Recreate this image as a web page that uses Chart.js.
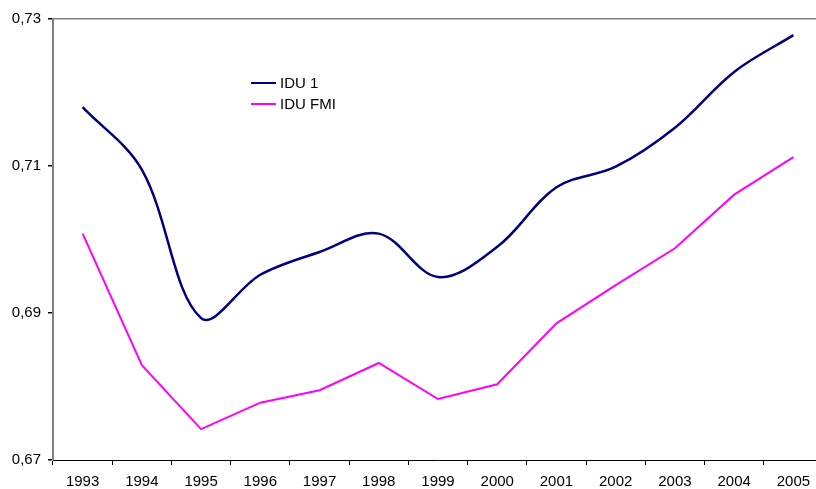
<!DOCTYPE html>
<html lang="pt">
<head>
    <meta charset="UTF-8">
    <title>IDU</title>
    <script src="https://cdn.jsdelivr.net/npm/chart.js"></script>
    <style>
        body {
            margin: 0;
            background: #fff;
            overflow: hidden;
            font-family: 'Liberation Sans', Arial, sans-serif;
        }
        .wrap {
            position: relative;
            width: 823px;
            height: 489px;
        }
        #legend {
            position: absolute;
            left: 251px;
            top: 72px;
            font-size: 15px;
            color: #000;
        }
        #legend div {
            height: 21px;
            display: flex;
            align-items: center;
        }
        #legend span.line {
            display: inline-block;
            width: 25px;
            margin-right: 4px;
        }
    </style>
</head>
<body>
    <div class="wrap">
        <canvas id="chart" width="823" height="489"></canvas>
        <div id="legend"></div>
    </div>

    <script>
        // data
        var years = ['1993', '1994', '1995', '1996', '1997', '1998', '1999',
                     '2000', '2001', '2002', '2003', '2004', '2005'];
        var idu1 = [0.7180, 0.7095, 0.6893, 0.6952, 0.6983, 0.7008, 0.6949,
                    0.6990, 0.7071, 0.7099, 0.7152, 0.7228, 0.7278];
        var iduFmi = [0.7008, 0.6829, 0.6742, 0.6778, 0.6795, 0.6832, 0.6783,
                      0.6803, 0.6886, 0.6938, 0.6988, 0.7061, 0.7112];
        var yTicks = [0.67, 0.69, 0.71, 0.73];

        var font = { family: "'Liberation Sans', Arial, sans-serif", size: 15 };

        var ctx = document.getElementById('chart').getContext('2d');
        var chart = new Chart(ctx, {
            type: 'line',
            data: {
                labels: years,
                datasets: [{
                    label: 'IDU 1',
                    data: idu1,
                    borderColor: '#000080',
                    borderWidth: 2.5,
                    tension: 0.35,
                    pointRadius: 0,
                    fill: false
                }, {
                    label: 'IDU FMI',
                    data: iduFmi,
                    borderColor: '#FF00FF',
                    borderWidth: 2,
                    tension: 0,
                    pointRadius: 0,
                    fill: false
                }]
            },
            options: {
                responsive: false,
                animation: false,
                layout: { padding: { top: 19, left: 0, right: 0, bottom: 0 } },
                plugins: {
                    legend: { display: false },
                    tooltip: { enabled: false }
                },
                scales: {
                    x: {
                        offset: true,
                        grid: {
                            offset: true,
                            drawOnChartArea: false,
                            tickLength: 5,
                            tickColor: '#000',
                            tickWidth: 1
                        },
                        border: { color: '#000', width: 1 },
                        ticks: { color: '#000', font: font, padding: 8, maxRotation: 0 },
                        afterFit: function (scale) { scale.height = 29; }
                    },
                    y: {
                        min: 0.67,
                        max: 0.73,
                        afterBuildTicks: function (scale) {
                            scale.ticks = yTicks.map(function (v) { return { value: v }; });
                        },
                        grid: {
                            // only the top line of the plot frame
                            color: function (c) {
                                return c.tick && c.tick.value === 0.73 ? '#808080' : 'rgba(0,0,0,0)';
                            },
                            lineWidth: 1.5,
                            tickLength: 5,
                            tickColor: '#000'
                        },
                        border: { color: '#808080', width: 2 },
                        ticks: {
                            color: '#000',
                            font: font,
                            padding: 7,
                            callback: function (v) { return v.toFixed(2).replace('.', ','); }
                        },
                        afterFit: function (scale) { scale.width = 53; }
                    }
                }
            }
        });

        // legend inside the plot
        var legend = document.getElementById('legend');
        chart.data.datasets.forEach(function (ds) {
            var row = document.createElement('div');
            row.innerHTML = '<span class="line" style="border-top:2px solid ' + ds.borderColor + '"></span>' + ds.label;
            legend.appendChild(row);
        });
    </script>
</body>
</html>
